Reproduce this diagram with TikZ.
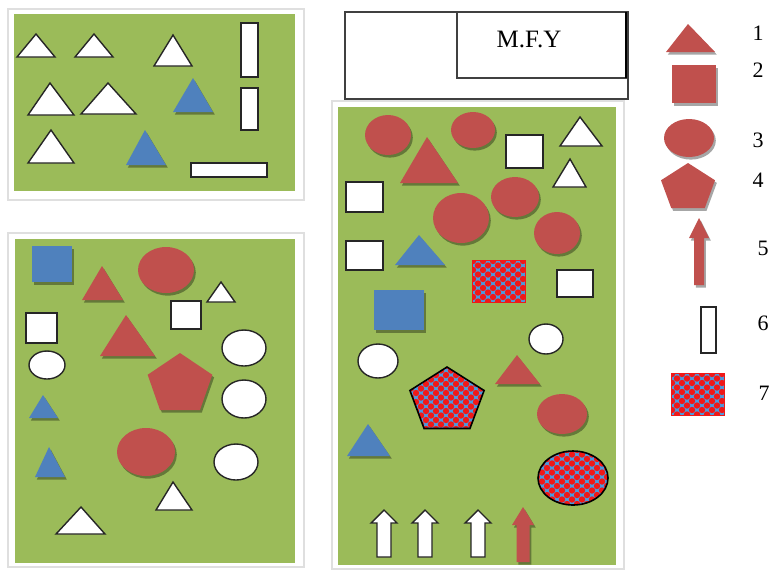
\documentclass[tikz,border=0pt]{standalone}
\usepackage{fontspec}
\setmainfont{Liberation Serif}
\usetikzlibrary{shadows}
\definecolor{grn}{HTML}{9BBB59}
\definecolor{rd}{HTML}{C0504D}
\definecolor{bl}{HTML}{4F81BD}
\definecolor{pbl}{HTML}{4A9BE0}
\definecolor{pred}{HTML}{F01818}
\newcommand\tri[6]{\path[#1] (#2,#3) -- (#4,#6) -- (#5,#6) -- cycle;}
\newcommand\pentpath[4]{(#1,#2) -- ({#1+0.951*#3},{#2+0.691*#4}) -- ({#1+0.588*#3},{#2+1.809*#4}) -- ({#1-0.588*#3},{#2+1.809*#4}) -- ({#1-0.951*#3},{#2+0.691*#4}) -- cycle}
\newcommand\pent[5]{\path[#1] \pentpath{#2}{#3}{#4}{#5};}
\newcommand\blockarrow[7]{\path[#1] (#2,#3) -- ({#2+#6},#4) -- ({#2+#7},#4) -- ({#2+#7},#5) -- ({#2-#7},#5) -- ({#2-#7},#4) -- ({#2-#6},#4) -- cycle;}
\newcommand\checkpath[6]{%
\begin{scope}
 \clip #1;
 \fill[pbl] (#2,#3) rectangle (#4,#5);
 \foreach \i in {0,...,8}{\foreach \j in {0,...,8}{
   \fill[pred] ({#2+1+10*\i},{#3+1+9*\j}) circle [radius=3.2];
   \fill[pred] ({#2+6+10*\i},{#3+5.5+9*\j}) circle [radius=3.2];}}
\end{scope}
\draw[#6] #1;}
\begin{document}
\begin{tikzpicture}[x=0.5pt,y=-0.5pt,
  frame/.style={draw=gray!25,line width=0.6pt,fill=white},
  wshape/.style={fill=white,draw=black!85,line width=0.7pt},
  shad/.style={drop shadow={shadow xshift=0.9pt,shadow yshift=-1.3pt,opacity=0.35,fill=black}},
  rshape/.style={fill=rd,shad},
  bshape/.style={fill=bl,shad},
  boxline/.style={draw=black!75,line width=0.6pt},
  lbl/.style={font=\fontsize{11}{13}\selectfont,inner sep=0pt}]
\useasboundingbox (0,0) rectangle (779,569);
\fill[white] (0,0) rectangle (779,569);
% ---------- panel 1 ----------
\path[frame] (8,9) rectangle (304,200);
\fill[grn] (14,14) rectangle (295,191);
\tri{wshape}{36}{34}{17}{55}{57}
\tri{wshape}{94}{34}{75}{113}{57}
\tri{wshape}{173}{35}{154}{192}{66}
\tri{wshape}{50}{83}{28}{74}{115}
\tri{wshape}{108}{83}{81}{136}{114}
\tri{bshape}{193}{78}{173}{213}{112}
\tri{wshape}{51}{130}{28}{74}{163}
\tri{bshape}{145}{130}{126}{166}{165}
\path[wshape] (241,23) rectangle (258,77);
\path[wshape] (241,88) rectangle (258,130);
\path[wshape] (191,163) rectangle (267,177);
% ---------- panel 2 ----------
\path[frame] (8,233) rectangle (304,567);
\fill[grn] (15,239) rectangle (295,563);
\path[bshape] (32,246) rectangle (72,282);
\tri{rshape}{102}{266}{82}{123}{300}
\path[rshape] (166,270) ellipse [x radius=28,y radius=23];
\tri{wshape}{221}{282}{207}{235}{302}
\path[wshape] (171,301) rectangle (201,329);
\path[wshape] (26,313) rectangle (57,343);
\tri{rshape}{126}{315}{100}{155}{356}
\path[wshape] (47,365) ellipse [x radius=18,y radius=14];
\path[wshape] (244,348) ellipse [x radius=22,y radius=18];
\pent{rshape}{180}{353}{34}{31.5}
\path[wshape] (244,399) ellipse [x radius=22,y radius=19];
\tri{bshape}{43}{395}{29}{58}{418}
\tri{bshape}{49}{447}{35}{65}{477}
\path[rshape] (146,452) ellipse [x radius=29,y radius=24];
\path[wshape] (236,462) ellipse [x radius=22,y radius=18];
\tri{wshape}{173}{482}{156}{192}{510}
\tri{wshape}{81}{507}{56}{105}{534}
% ---------- title box ----------
\draw[boxline] (345,12) rectangle (628,99);
\draw[boxline] (457,12) rectangle (626,78);
\draw[line width=1.2pt] (626,12) -- (626,78);
\node[font=\fontsize{12.5}{14}\selectfont,inner sep=0pt] (mfy) at (529,39) {M.F.Y};
% ---------- panel 3 ----------
\path[frame] (332,101) rectangle (624,569);
\fill[grn] (338,107) rectangle (616,565);
\path[rshape] (388,135) ellipse [x radius=23,y radius=20];
\path[rshape] (473,130) ellipse [x radius=22,y radius=18];
\tri{rshape}{427}{137}{400}{458}{183}
\path[wshape] (506,135) rectangle (543,168);
\tri{wshape}{580}{117}{560}{602}{146}
\tri{wshape}{570}{159}{553}{586}{187}
\path[wshape] (346,182) rectangle (383,212);
\path[rshape] (515,197) ellipse [x radius=24,y radius=20];
\path[rshape] (461,218) ellipse [x radius=28,y radius=25];
\path[rshape] (557,233) ellipse [x radius=23,y radius=21];
\path[wshape] (346,241) rectangle (383,270);
\tri{bshape}{419}{235}{395}{445}{265}
\checkpath{(472,260) rectangle (525,302)}{472}{260}{525}{302}{draw=pred,line width=0.5pt}
\path[wshape] (557,270) rectangle (593,297);
\path[bshape] (374,290) rectangle (424,330);
\path[wshape] (546,339) ellipse [x radius=17,y radius=15];
\path[wshape] (378,361) ellipse [x radius=20,y radius=17];
\tri{rshape}{517}{355}{495}{540}{384}
\checkpath{\pentpath{447}{367}{39}{34}}{405}{365}{490}{432}{draw=black,line width=0.8pt}
\path[rshape] (562,414) ellipse [x radius=25,y radius=20];
\tri{bshape}{368}{424}{347}{390}{456}
\checkpath{(573,478) ellipse [x radius=35,y radius=27]}{536}{449}{610}{507}{draw=black,line width=0.8pt}
\blockarrow{wshape}{384}{510}{523}{557}{13}{7}
\blockarrow{wshape}{425}{510}{523}{557}{13}{7}
\blockarrow{wshape}{478}{510}{523}{557}{13}{7}
\blockarrow{rshape}{523}{507}{525}{562}{11}{6.5}
% ---------- legend ----------
\tri{rshape}{688}{24}{666}{715}{52}
\path[rshape] (672,65) rectangle (716,103);
\path[rshape] (689,138) ellipse [x radius=25,y radius=19];
\pent{rshape}{688}{163}{28.4}{25}
\blockarrow{rshape}{699}{218}{238}{285}{10}{5}
\path[wshape] (701,307) rectangle (716,353);
\checkpath{(671,373) rectangle (724,415)}{671}{373}{724}{415}{draw=pred,line width=0.5pt}
\node[lbl] (l1) at (758,33) {1};
\node[lbl] (l2) at (758,70) {2};
\node[lbl] (l3) at (758,140) {3};
\node[lbl] (l4) at (758,180) {4};
\node[lbl] (l5) at (763,248) {5};
\node[lbl] (l6) at (763,323) {6};
\node[lbl] (l7) at (764,393) {7};
\end{tikzpicture}
\end{document}
